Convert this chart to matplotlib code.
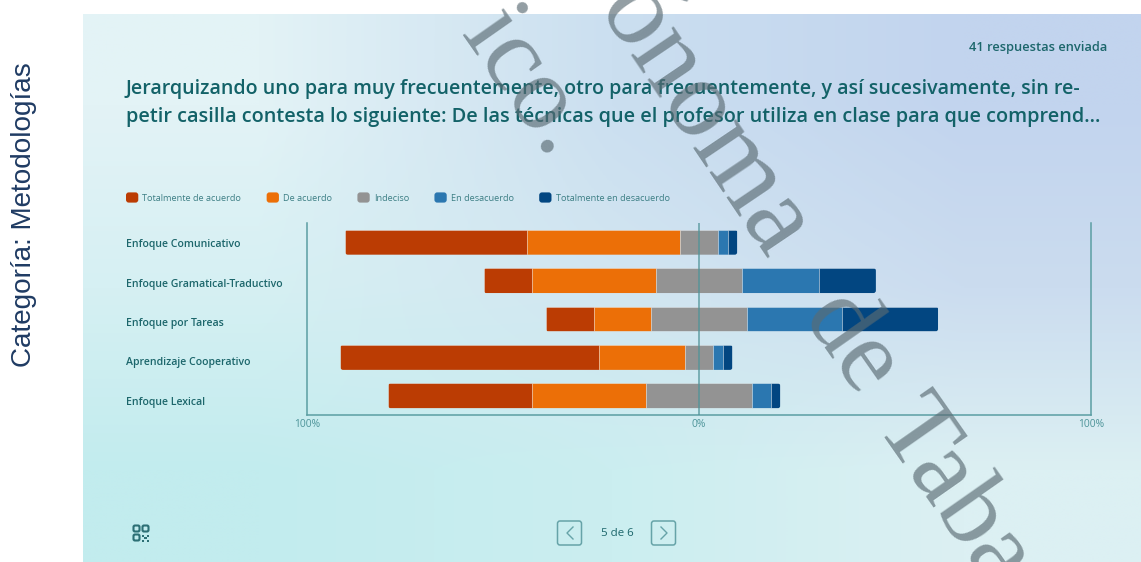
import numpy as np
import matplotlib
matplotlib.use("Agg")
import matplotlib.pyplot as plt
from matplotlib.patches import FancyBboxPatch, Rectangle, Patch
from matplotlib.legend_handler import HandlerPatch
from matplotlib.colors import to_rgb

# ---- data (number of answers out of 41) ----
categories = ["Enfoque Comunicativo", "Enfoque Gramatical-Traductivo", "Enfoque por Tareas",
              "Aprendizaje Cooperativo", "Enfoque Lexical"]
total_agree = [19, 5, 5, 27, 15]
agree = [16, 13, 6, 9, 12]
undecided = [4, 9, 10, 3, 11]
disagree = [1, 8, 10, 1, 2]
total_disagree = [1, 6, 10, 1, 1]
n_responses = 41
series_names = ["Totalmente de acuerdo", "De acuerdo", "Indeciso", "En desacuerdo", "Totalmente en desacuerdo"]
series_colors = ["#bb3c03", "#ec6f07", "#939393", "#2b77b0", "#024681"]
x_ticks = [-100, 0, 100]
x_tick_labels = ["100%", "0%", "100%"]

W, H = 1141, 562
TEAL = "#5b9ea3"
TXT = "#1c666b"
FONT = "Open Sans"
px = 0.72  # pt per px at dpi 100

fig = plt.figure(figsize=(W / 100, H / 100), dpi=100, facecolor="white")

bg = fig.add_axes([0, 0, 1, 1], zorder=0)
bg.set_xlim(0, W); bg.set_ylim(H, 0); bg.axis("off")
corners = [["#e3f3f6", "#cbdff0", "#c2d4ee"],
           ["#d6f0f3", "#d2e6f1", "#cbdcef"],
           ["#c2ecee", "#cbeef0", "#dcf0f3"]]
grid = np.array([[to_rgb(c) for c in row] for row in corners])
bg.imshow(grid, extent=(83, W, H, 14), interpolation="bilinear", aspect="auto", zorder=0)
bg.set_xlim(0, W); bg.set_ylim(H, 0)

bg.text(24, 215, "Categoría: Metodologías", rotation=90, ha="center", va="center",
        fontsize=27.9 * px, family="Liberation Sans", color="#1f3b63")
bg.text(1107, 47, "41 respuestas enviada", ha="right", va="center", fontsize=12.9 * px,
        family=FONT, weight=600, color=TXT)
bg.text(126, 89, "Jerarquizando uno para muy frecuentemente, otro para frecuentemente, y así sucesivamente, sin re-",
        ha="left", va="center", fontsize=19.7 * px, family=FONT, weight=600, color="#136268")
bg.text(126, 117, "petir casilla contesta lo siguiente: De las técnicas que el profesor utiliza en clase para que comprend...",
        ha="left", va="center", fontsize=19.82 * px, family=FONT, weight=600, color="#136268")

for i, name in enumerate(categories):
    bg.text(126, 244.5 + 39.5 * i, name, ha="left", va="center", fontsize=10.5 * px,
            family=FONT, weight=600, color=TXT)

# footer
for x0 in (557.5, 651.5):
    bg.add_patch(FancyBboxPatch((x0, 521), 24, 24, boxstyle="round,pad=0,rounding_size=2.5",
                                fc="none", ec="#66a3a8", lw=1.1))
bg.plot([573, 567, 573], [527, 533, 539], color="#66a3a8", lw=1)
bg.plot([661, 667, 661], [527, 533, 539], color="#66a3a8", lw=1)
bg.text(617, 533, "5 de 6", ha="center", va="center", fontsize=11.5 * px, family=FONT, color=TXT)
for (x0, y0) in [(133.5, 525.5), (142.5, 525.5), (133.5, 534.5)]:
    bg.add_patch(FancyBboxPatch((x0, y0), 6, 6, boxstyle="round,pad=0,rounding_size=1.5",
                                fc="none", ec="#2c6f75", lw=1.5))
for (x0, y0) in [(142, 534.5), (146.5, 534.5), (144.2, 537), (142, 539.5), (146.5, 539.5)]:
    bg.add_patch(Rectangle((x0, y0), 2.4, 2.4, fc="#2c6f75", ec="none"))

# ---- chart ----
ax = fig.add_axes([307 / W, 1 - 415 / H, (1091 - 307) / W, (415 - 223) / H], zorder=1)
ax.patch.set_alpha(0)
ax.set_xlim(-100, 100)
ax.set_ylim(len(categories) - 0.5, -0.5)
y = np.arange(len(categories))
rows = np.array([total_agree, agree, undecided, disagree, total_disagree], dtype=float) * 100 / n_responses
left = -(rows[0] + rows[1] + rows[2] / 2)
bar_h = 0.65
x_round = 0.65
aspect = (784 / 200) / (192 / len(categories))
clips = []
for yi, l, t in zip(y, left, rows.sum(axis=0)):
    c = FancyBboxPatch((l, yi - bar_h / 2), t, bar_h, boxstyle=f"round,pad=0,rounding_size={x_round}",
                       mutation_aspect=aspect, transform=ax.transData, fc="none", ec="none")
    ax.add_patch(c)
    clips.append(c)
cum = left.copy()
for vals, name, col in zip(rows, series_names, series_colors):
    bars = ax.barh(y, vals, left=cum, height=bar_h, color=col, edgecolor=(1, 1, 1, 0.3),
                   linewidth=0.7, label=name, zorder=2)
    for b, c in zip(bars, clips):
        b.set_clip_path(c)
    cum += vals

ax.axvline(0, color="#4f9398", lw=1.1, alpha=0.85, zorder=3)
ax.spines["top"].set_visible(False)
for s in ("left", "right", "bottom"):
    ax.spines[s].set_color(TEAL)
    ax.spines[s].set_linewidth(1.1)
ax.set_xticks(x_ticks, x_tick_labels)
ax.tick_params(axis="x", length=0, pad=3, labelsize=10.2 * px, labelcolor="#4d9499")
for t in ax.get_xticklabels():
    t.set_family(FONT)
ax.set_yticks([])


def rounded_swatch(legend, orig_handle, xdescent, ydescent, width, height, fontsize):
    return FancyBboxPatch((-xdescent, -ydescent), width, height,
                          boxstyle="round,pad=0,rounding_size=2", mutation_aspect=1)


handles = [Patch(fc=c, ec="none", label=n) for c, n in zip(series_colors, series_names)]
bg.legend(handles=handles, loc="center left", bbox_to_anchor=(126 / W, 1 - 197.5 / H),
          bbox_transform=fig.transFigure, ncol=5, frameon=False, borderpad=0, borderaxespad=0,
          handlelength=1.35, handleheight=1.35, handletextpad=0.45, columnspacing=2.79,
          prop={"family": FONT, "size": 9.1 * px}, labelcolor="#3d7f85",
          handler_map={Patch: HandlerPatch(patch_func=rounded_swatch)})

# ---- watermark (top layer) ----
ov = fig.add_axes([0, 0, 1, 1], zorder=3)
ov.set_xlim(0, W); ov.set_ylim(H, 0); ov.axis("off")
wm = dict(family="Liberation Serif", fontsize=106 * px, color="#5a6b73", alpha=0.66,
          rotation=-55, rotation_mode="anchor", ha="left", va="baseline", clip_on=False)
ov.text(596, 10, "ónoma", **dict(wm, fontsize=112 * px, rotation=-56))
ov.text(800, 318, "de", **wm)
ov.text(873, 424, "Tabasco", **wm)
ov.text(460, 34, "ico.", **wm)

fig.savefig("out.png", dpi=100)
